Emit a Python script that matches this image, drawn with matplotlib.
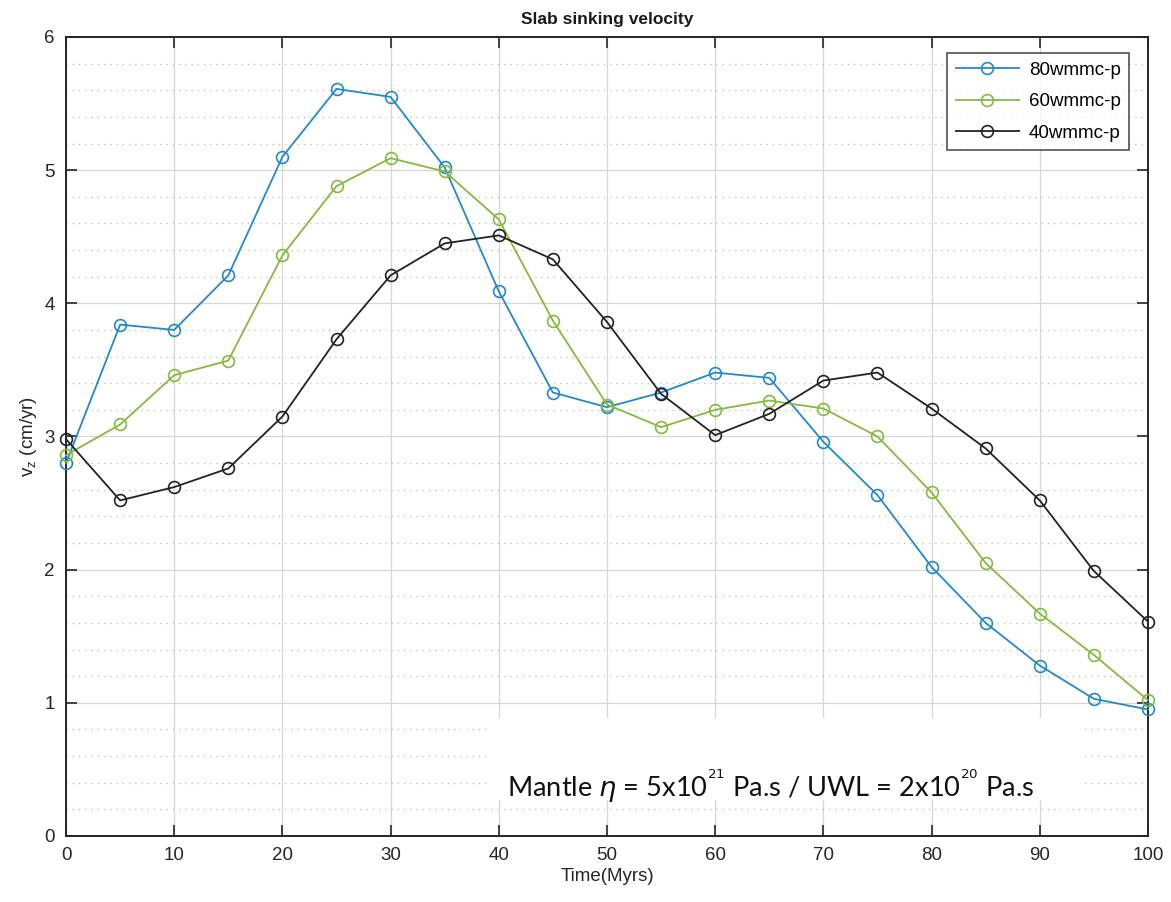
import matplotlib
matplotlib.use("Agg")
import matplotlib.pyplot as plt
from matplotlib.patches import Rectangle
from matplotlib.ticker import MultipleLocator

# Time axis (Myrs) and sinking velocity series (cm/yr)
time_myrs = [0, 5, 10, 15, 20, 25, 30, 35, 40, 45, 50,
             55, 60, 65, 70, 75, 80, 85, 90, 95, 100]
vz_80 = [2.80, 3.84, 3.80, 4.21, 5.10, 5.61, 5.55, 5.02, 4.09, 3.33, 3.22,
         3.33, 3.48, 3.44, 2.96, 2.56, 2.02, 1.60, 1.28, 1.03, 0.95]
vz_60 = [2.86, 3.09, 3.46, 3.57, 4.36, 4.88, 5.09, 4.99, 4.63, 3.87, 3.24,
         3.07, 3.20, 3.27, 3.21, 3.00, 2.58, 2.05, 1.67, 1.36, 1.02]
vz_40 = [2.98, 2.52, 2.62, 2.76, 3.15, 3.73, 4.21, 4.45, 4.51, 4.33, 3.86,
         3.32, 3.01, 3.17, 3.42, 3.48, 3.21, 2.91, 2.52, 1.99, 1.61]
series_labels = ["80wmmc-p", "60wmmc-p", "40wmmc-p"]
x_ticks = [0, 10, 20, 30, 40, 50, 60, 70, 80, 90, 100]
y_ticks = [0, 1, 2, 3, 4, 5, 6]

plt.rcParams["font.family"] = ["Liberation Sans", "DejaVu Sans"]

fig = plt.figure(figsize=(11.71, 9.02), dpi=100)
ax = fig.add_axes([0.0564, 0.0732, 0.9239, 0.8858])

colors = ["#2389cc", "#86b93e", "#222222"]
for ys, lab, c in zip([vz_80, vz_60, vz_40], series_labels, colors):
    ax.plot(time_myrs, ys, "-o", color=c, lw=1.3, ms=8.5,
            mfc="none", mew=1.2, label=lab, zorder=3, clip_on=False)

ax.set_xlim(0, 100)
ax.set_ylim(0, 6)
ax.set_xticks(x_ticks)
ax.set_yticks(y_ticks)
ax.yaxis.set_minor_locator(MultipleLocator(0.2))

ax.grid(True, which="major", color="#d6d6d6", lw=0.9, zorder=0)
ax.grid(True, which="minor", axis="y", color="#b8b8b8", lw=0.9,
        linestyle=(0, (1, 4)), zorder=0)
ax.set_axisbelow(True)

ax.tick_params(which="major", direction="in", length=8, width=1.2,
               top=True, right=True, labelsize=13.5, colors="#262626",
               pad=8)
ax.tick_params(which="minor", length=0, left=False, right=False)
for s in ax.spines.values():
    s.set_linewidth(1.4)
    s.set_color("#262626")

ax.set_title("Slab sinking velocity", fontsize=12.5, fontweight="bold",
             color="#1a1a1a", pad=9)
ax.set_xlabel("Time(Myrs)", fontsize=13.5, color="#262626", labelpad=3)
ax.set_ylabel(r"v$_\mathregular{z}$ (cm/yr)", fontsize=13.5,
              color="#262626", labelpad=4)

leg = ax.legend(loc="upper right", bbox_to_anchor=(0.9825, 0.98),
                fontsize=13.5, frameon=True, fancybox=False,
                edgecolor="#262626", borderpad=0.45, labelspacing=0.78,
                handlelength=3.4, handletextpad=0.5, borderaxespad=0)
leg.get_frame().set_linewidth(1.2)

# White panel with viscosity note
ax.add_patch(Rectangle((0.392, 0.045), 0.545, 0.103, transform=ax.transAxes,
                       facecolor="white", edgecolor="none", zorder=2))
ax.text(0.4075, 0.062,
        r"Mantle $\eta$ = 5x10$^{^{21}}$ Pa.s / UWL = 2x10$^{^{20}}$ Pa.s",
        transform=ax.transAxes, fontsize=19.6, family=["Lato", "DejaVu Sans"],
        color="#111111", va="center", ha="left", zorder=4)

fig.savefig("out.png", dpi=100)
